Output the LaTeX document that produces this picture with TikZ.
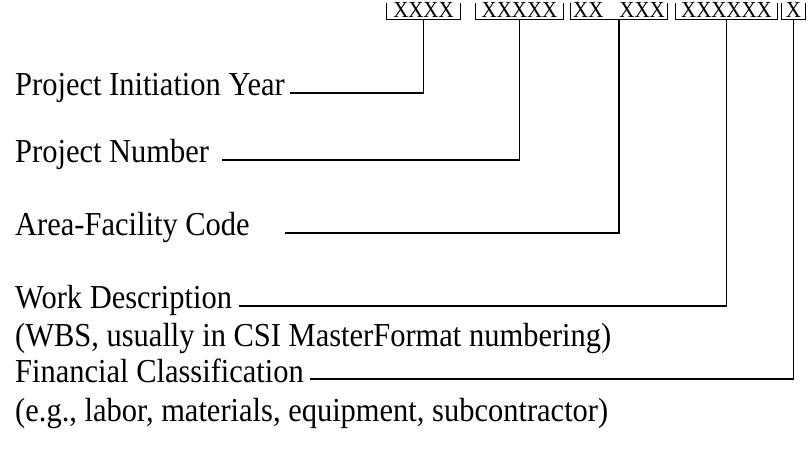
\documentclass[tikz,border=0pt]{standalone}
\usepackage{fontspec}
\setmainfont{Liberation Serif}[FakeStretch=0.91]
\usetikzlibrary{positioning}

\begin{document}
\begin{tikzpicture}[x=1pt,y=-1pt,
  codefield/.style={font=\fontsize{23}{26}\selectfont,inner xsep=0pt,inner ysep=0pt,text height=15pt,text depth=1.5pt,anchor=base},
  desc/.style={font=\fontsize{33.5}{38}\selectfont,inner sep=0pt,anchor=base west},
  bracket/.style={line width=1.1pt},
  leader/.style={line width=1.7pt}]
  \useasboundingbox (0,0) rectangle (809,454);
  %code fields
  \node[codefield,minimum width=74pt] (yr) at (423.5,18) {XXXX};
  \node[codefield,minimum width=87pt] (num) at (519.5,18) {XXXXX};
  \node[codefield,minimum width=97pt] (area) at (619,18) {XX\hspace{0.7em}XXX};
  \node[codefield,minimum width=102pt] (work) at (726.5,18) {XXXXXX};
  \node[codefield,minimum width=23pt] (fin) at (793.5,18) {X};
  \foreach \f in {yr,num,area,work,fin}
    \draw[bracket] (\f.north west) |- (\f.south east) -- (\f.north east);
  %labels
  \node[desc] (yr-l) at (15,96) {Project Initiation Year};
  \node[desc] (num-l) at (15,163) {Project Number};
  \node[desc] (area-l) at (15,236) {Area-Facility Code};
  \node[desc] (work-l) at (15,309) {Work Description};
  \node[desc] (work-n) at (15,347) {(WBS, usually in CSI MasterFormat numbering)};
  \node[desc] (fin-l) at (15,382) {Financial Classification};
  \node[desc] (fin-n) at (15,421) {(e.g., labor, materials, equipment, subcontractor)};
  %leaders
  \draw[leader] (yr.south) |- ([xshift=5pt,yshift=3pt]yr-l.base east);
  \draw[leader] (num.south) |- ([xshift=13pt,yshift=3pt]num-l.base east);
  \draw[leader] (area.south) |- ([xshift=35pt,yshift=3pt]area-l.base east);
  \draw[leader] (work.south) |- ([xshift=7pt,yshift=3pt]work-l.base east);
  \draw[leader] (fin.south) |- ([xshift=6pt,yshift=3pt]fin-l.base east);
\end{tikzpicture}
\end{document}
